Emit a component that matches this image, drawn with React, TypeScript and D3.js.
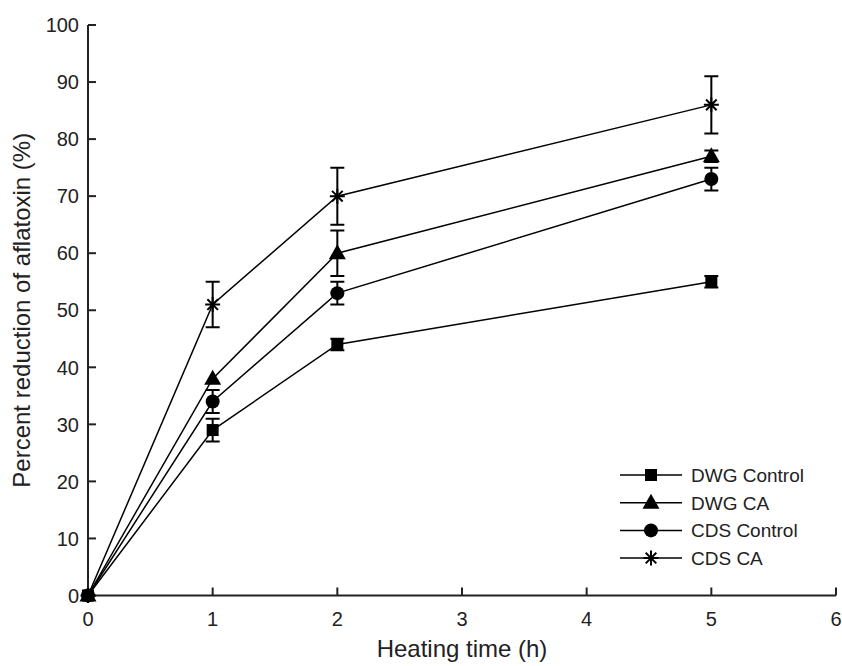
import React from "react";
import * as d3 from "d3";

const times = [0, 1, 2, 5];
const seriesNames = ["DWG Control", "DWG CA", "CDS Control", "CDS CA"];
const markerTypes = ["square", "triangle", "circle", "asterisk"];
const dwgControl = [0, 29, 44, 55];
const dwgControlErr = [0, 2, 1, 1];
const dwgCA = [0, 38, 60, 77];
const dwgCAErr = [0, 0, 4, 1];
const cdsControl = [0, 34, 53, 73];
const cdsControlErr = [0, 2, 2, 2];
const cdsCA = [0, 51, 70, 86];
const cdsCAErr = [0, 4, 5, 5];
const xTicks = [0, 1, 2, 3, 4, 5, 6];
const yTicks = [0, 10, 20, 30, 40, 50, 60, 70, 80, 90, 100];

const W = 842, H = 666;
const FONT = "Liberation Sans, Arial, sans-serif";

function Marker({ type, x, y }: { type: string; x: number; y: number }) {
  if (type === "square") return <rect x={x - 6} y={y - 6} width={12} height={12} fill="#000" />;
  if (type === "triangle")
    return <path d={`M${x},${y - 9}L${x + 8.5},${y + 6}L${x - 8.5},${y + 6}Z`} fill="#000" />;
  if (type === "circle") return <circle cx={x} cy={y} r={7} fill="#000" />;
  const r = 7.5;
  const d = [0, 45, 90, 135]
    .map((a) => {
      const rad = (a * Math.PI) / 180;
      const dx = Math.cos(rad) * r, dy = Math.sin(rad) * r;
      return `M${x - dx},${y - dy}L${x + dx},${y + dy}`;
    })
    .join("");
  return <path d={d} stroke="#000" strokeWidth={2} fill="none" />;
}

export default function App() {
  const x = d3.scaleLinear().domain([0, 6]).range([88, 836]);
  const y = d3.scaleLinear().domain([0, 100]).range([595.5, 25]);
  const series = [
    { name: seriesNames[0], v: dwgControl, e: dwgControlErr, m: markerTypes[0] },
    { name: seriesNames[1], v: dwgCA, e: dwgCAErr, m: markerTypes[1] },
    { name: seriesNames[2], v: cdsControl, e: cdsControlErr, m: markerTypes[2] },
    { name: seriesNames[3], v: cdsCA, e: cdsCAErr, m: markerTypes[3] },
  ];
  const line = d3
    .line<number>()
    .x((_, i) => x(times[i]))
    .y((d) => y(d));
  const cap = 7;
  return (
    <svg width={W} height={H} style={{ position: "absolute", left: 0, top: 0, background: "#fff" }}>
      <rect width={W} height={H} fill="#fff" />
      <path d={`M${x(0)},${y(100)}V${y(0)}H${x(6)}`} stroke="#222" strokeWidth={2} fill="none" />
      {yTicks.map((t) => (
        <g key={"y" + t}>
          <line x1={x(0)} x2={x(0) + 8} y1={y(t)} y2={y(t)} stroke="#222" strokeWidth={2} />
          <text x={x(0) - 9} y={y(t)} dy="0.36em" textAnchor="end" fontSize={20} fontFamily={FONT} fill="#222">
            {t}
          </text>
        </g>
      ))}
      {xTicks.map((t) => (
        <g key={"x" + t}>
          <line x1={x(t)} x2={x(t)} y1={y(0)} y2={y(0) - 8} stroke="#222" strokeWidth={2} />
          <text x={x(t)} y={626} textAnchor="middle" fontSize={20} fontFamily={FONT} fill="#222">
            {t}
          </text>
        </g>
      ))}
      <text x={(x(0) + x(6)) / 2} y={657} textAnchor="middle" fontSize={24} fontFamily={FONT} fill="#222">
        Heating time (h)
      </text>
      <text
        transform={`translate(30,${(y(0) + y(100)) / 2}) rotate(-90)`}
        textAnchor="middle"
        fontSize={24}
        fontFamily={FONT}
        fill="#222"
      >
        Percent reduction of aflatoxin (%)
      </text>
      {series.map((s) => (
        <g key={s.name}>
          <path d={line(s.v) || ""} stroke="#000" strokeWidth={1.5} fill="none" />
          {s.v.map((v, i) =>
            s.e[i] > 0 ? (
              <path
                key={i}
                d={`M${x(times[i])},${y(v - s.e[i])}V${y(v + s.e[i])}M${x(times[i]) - cap},${y(v + s.e[i])}h${2 * cap}M${x(times[i]) - cap},${y(v - s.e[i])}h${2 * cap}`}
                stroke="#000"
                strokeWidth={2}
                fill="none"
              />
            ) : null
          )}
          {s.v.map((v, i) => (
            <Marker key={"m" + i} type={s.m} x={x(times[i])} y={y(v)} />
          ))}
        </g>
      ))}
      {series.map((s, i) => {
        const ly = 475 + i * 27.7;
        return (
          <g key={"l" + s.name}>
            <line x1={620} x2={682} y1={ly} y2={ly} stroke="#000" strokeWidth={1.5} />
            <Marker type={s.m} x={651} y={ly} />
            <text x={691} y={ly} dy="0.36em" fontSize={19} fontFamily={FONT} fill="#222">
              {s.name}
            </text>
          </g>
        );
      })}
    </svg>
  );
}
